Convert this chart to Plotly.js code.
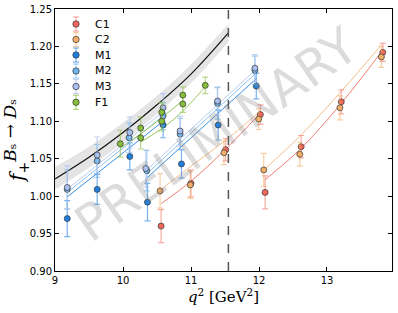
<!DOCTYPE html>
<html>
<head>
<meta charset="utf-8">
<script src="https://cdn.plot.ly/plotly-3.0.1.min.js"></script>
<style>html,body{margin:0;padding:0;background:#fff;}#chart{width:398px;height:313px;}</style>
</head>
<body>
<div id="chart"></div>
<script>
// ---- data ----
const seriesNames = ["C1", "C2", "M1", "M2", "M3", "F1"];

const C1_q2  = [10.56, 11.00, 11.51, 12.02, 12.09, 12.62, 13.21, 13.82];
const C1_f   = [0.960, 1.017, 1.062, 1.109, 1.005, 1.066, 1.126, 1.192];
const C1_err = [0.022, 0.018, 0.015, 0.013, 0.022, 0.015, 0.016, 0.012];

const C2_q2  = [10.545, 10.99, 11.485, 11.995, 12.07, 12.60, 13.19, 13.80];
const C2_f   = [1.007, 1.015, 1.058, 1.103, 1.035, 1.056, 1.118, 1.186];
const C2_err = [0.023, 0.018, 0.016, 0.014, 0.022, 0.016, 0.016, 0.014];

const M1_q2  = [9.18, 9.62, 10.10, 10.59, 10.36, 10.86, 11.40, 11.96];
const M1_f   = [0.970, 1.009, 1.053, 1.095, 0.992, 1.043, 1.095, 1.147];
const M1_err = [0.024, 0.020, 0.018, 0.017, 0.025, 0.019, 0.020, 0.017];

const M2_q2  = [9.18, 9.62, 10.09, 10.59, 10.35, 10.84, 11.39, 11.94];
const M2_f   = [1.009, 1.047, 1.078, 1.107, 1.034, 1.083, 1.124, 1.168];
const M2_err = [0.026, 0.022, 0.020, 0.018, 0.027, 0.021, 0.021, 0.019];

const M3_q2  = [9.18, 9.62, 10.10, 10.59, 10.335, 10.84, 11.39, 11.94];
const M3_f   = [1.0115, 1.055, 1.085, 1.118, 1.037, 1.087, 1.127, 1.171];
const M3_err = [0.029, 0.024, 0.021, 0.019, 0.025, 0.020, 0.019, 0.018];

const F1_q2  = [9.96, 10.26, 10.57, 10.88, 10.26, 10.57, 10.88, 11.21];
const F1_f   = [1.070, 1.091, 1.112, 1.135, 1.078, 1.100, 1.123, 1.148];
const F1_err = [0.018, 0.015, 0.013, 0.011, 0.015, 0.013, 0.011, 0.011];

// fit curves (two segments per ensemble)
const C1_fitA_q2 = [10.56, 11.00, 11.50, 12.02], C1_fitA_f = [0.990, 1.020, 1.062, 1.111];
const C1_fitB_q2 = [12.09, 12.62, 13.21, 13.82], C1_fitB_f = [1.022, 1.064, 1.124, 1.195];
const C2_fitA_q2 = [10.545, 11.00, 11.50, 12.00], C2_fitA_f = [1.008, 1.040, 1.074, 1.112];
const C2_fitB_q2 = [12.07, 12.60, 13.19, 13.80], C2_fitB_f = [1.035, 1.080, 1.138, 1.202];
const M1_fitA_q2 = [9.18, 10.59], M1_fitA_f = [0.999, 1.100];
const M1_fitB_q2 = [10.36, 11.96], M1_fitB_f = [1.025, 1.157];
const M2_fitA_q2 = [9.18, 10.59], M2_fitA_f = [1.005, 1.107];
const M2_fitB_q2 = [10.35, 11.94], M2_fitB_f = [1.030, 1.163];
const M3_fitA_q2 = [9.18, 10.59], M3_fitA_f = [1.009, 1.113];
const M3_fitB_q2 = [10.335, 11.94], M3_fitB_f = [1.034, 1.168];
const F1_fitA_q2 = [9.96, 10.42, 10.88], F1_fitA_f = [1.064, 1.094, 1.128];
const F1_fitB_q2 = [10.26, 10.74, 11.21], F1_fitB_f = [1.072, 1.102, 1.146];

// continuum result with band
const cont_q2    = [9.0, 9.5, 10.0, 10.5, 11.0, 11.55];
const cont_f     = [1.023, 1.052, 1.085, 1.122, 1.163, 1.218];
const cont_upper = [1.039, 1.066, 1.098, 1.134, 1.176, 1.230];
const cont_lower = [1.009, 1.038, 1.072, 1.110, 1.151, 1.206];

const q2max = 11.55;

const xTicks = [9, 10, 11, 12, 13];
const yTicks = [0.90, 0.95, 1.00, 1.05, 1.10, 1.15, 1.20, 1.25];

// ---- styles ----
const markerColors = {C1:"#f0675c", C2:"#f2ae66", M1:"#1f7fe0", M2:"#6fb4ea", M3:"#a9bff0", F1:"#86bd3a"};
const errColors    = {C1:"rgba(240,103,92,0.55)", C2:"rgba(242,174,102,0.6)", M1:"rgba(31,127,224,0.6)",
                      M2:"rgba(111,180,234,0.6)", M3:"rgba(169,191,240,0.7)", F1:"rgba(134,189,58,0.6)"};
const lineColors   = {C1:"#f27d72", C2:"#f5c089", M1:"#3a8ee4", M2:"#8cc3ef", M3:"#bacdf4", F1:"#98c857"};

const pts = {
  C1:[C1_q2,C1_f,C1_err], C2:[C2_q2,C2_f,C2_err], M1:[M1_q2,M1_f,M1_err],
  M2:[M2_q2,M2_f,M2_err], M3:[M3_q2,M3_f,M3_err], F1:[F1_q2,F1_f,F1_err]
};
const fits = {
  C1:[[C1_fitA_q2,C1_fitA_f],[C1_fitB_q2,C1_fitB_f]],
  C2:[[C2_fitA_q2,C2_fitA_f],[C2_fitB_q2,C2_fitB_f]],
  M1:[[M1_fitA_q2,M1_fitA_f],[M1_fitB_q2,M1_fitB_f]],
  M2:[[M2_fitA_q2,M2_fitA_f],[M2_fitB_q2,M2_fitB_f]],
  M3:[[M3_fitA_q2,M3_fitA_f],[M3_fitB_q2,M3_fitB_f]],
  F1:[[F1_fitA_q2,F1_fitA_f],[F1_fitB_q2,F1_fitB_f]]
};

const traces = [];
// band
traces.push({x: cont_q2, y: cont_upper, mode:"lines", line:{width:0, shape:"spline"}, hoverinfo:"skip", showlegend:false});
traces.push({x: cont_q2, y: cont_lower, mode:"lines", line:{width:0, shape:"spline"}, fill:"tonexty",
             fillcolor:"rgba(195,195,195,0.45)", hoverinfo:"skip", showlegend:false});
traces.push({x: cont_q2, y: cont_f, mode:"lines", line:{color:"#111", width:1.2, shape:"spline"}, showlegend:false});

// fit lines
seriesNames.forEach(n => {
  fits[n].forEach(seg => {
    traces.push({x: seg[0], y: seg[1], mode:"lines", line:{color: lineColors[n], width:1, shape:"spline"}, showlegend:false});
  });
});
// points
seriesNames.forEach(n => {
  const p = pts[n];
  traces.push({x: p[0], y: p[1], name:n, mode:"markers", showlegend:false,
    error_y:{type:"data", array:p[2], visible:true, color:errColors[n], thickness:1.2, width:3},
    marker:{color: markerColors[n], size:6, line:{color:"#333", width:0.7}}});
});

// manual legend (paper coords)
const legX = 0.0623, legTextX = 0.113;
const legY = [0.9427, 0.8836, 0.8244, 0.7634, 0.7042, 0.6439];
const shapes = [];
const annotations = [];
seriesNames.forEach((n, i) => {
  const y = legY[i];
  const base = {xref:"paper", yref:"paper", xsizemode:"pixel", ysizemode:"pixel", xanchor:legX, yanchor:y};
  shapes.push(Object.assign({type:"line", x0:0, x1:0, y0:-7, y1:7, line:{color:errColors[n], width:1.2}}, base));
  shapes.push(Object.assign({type:"line", x0:-3, x1:3, y0:7, y1:7, line:{color:errColors[n], width:1.2}}, base));
  shapes.push(Object.assign({type:"line", x0:-3, x1:3, y0:-7, y1:-7, line:{color:errColors[n], width:1.2}}, base));
  shapes.push(Object.assign({type:"circle", x0:-3.2, x1:3.2, y0:-3.2, y1:3.2, fillcolor:markerColors[n], line:{color:"#333", width:0.7}}, base));
  annotations.push({xref:"paper", yref:"paper", x:legTextX, y:y, text:n, showarrow:false, xanchor:"left", yanchor:"middle",
    font:{family:"DejaVu Sans", size:11, color:"#000"}});
});
// dashed q2max line
shapes.push({type:"line", xref:"x", yref:"paper", x0:q2max, x1:q2max, y0:0, y1:1, line:{color:"#555", width:1.5, dash:"dash"}});

// watermark
annotations.push({xref:"paper", yref:"paper", x:0.478, y:0.52, text:"PRELIMINARY", showarrow:false, textangle:-35,
  font:{family:"DejaVu Sans", size:50, color:"rgba(128,128,128,0.28)"}});

const axisCommon = {showgrid:false, zeroline:false, showline:true, linecolor:"#000", linewidth:1, mirror:"ticks",
  ticks:"inside", ticklen:4, tickwidth:1, tickcolor:"#000", tickfont:{family:"DejaVu Sans", size:10, color:"#000"}};

const layout = {
  width:398, height:313,
  margin:{l:55, r:6, t:9, b:42},
  paper_bgcolor:"#fff", plot_bgcolor:"#fff",
  showlegend:false,
  xaxis: Object.assign({}, axisCommon, {range:[9, 13.956], tickvals:xTicks, ticktext:xTicks.map(String),
    title:{text:"<i>q</i><sup>2</sup> [GeV<sup>2</sup>]", font:{family:"DejaVu Serif", size:15, color:"#000"}, standoff:6}}),
  yaxis: Object.assign({}, axisCommon, {range:[0.90, 1.25], tickvals:yTicks, ticktext:yTicks.map(v=>v.toFixed(2)),
    title:{text:"<i>f</i><sub>+</sub><sup><span style='font-size:17px'><i>B</i>ₛ → <i>D</i>ₛ</span></sup>",
      font:{family:"DejaVu Serif", size:20, color:"#000"}, standoff:4}}),
  shapes: shapes,
  annotations: annotations
};

Plotly.newPlot("chart", traces, layout, {displayModeBar:false, staticPlot:true});
</script>
</body>
</html>
